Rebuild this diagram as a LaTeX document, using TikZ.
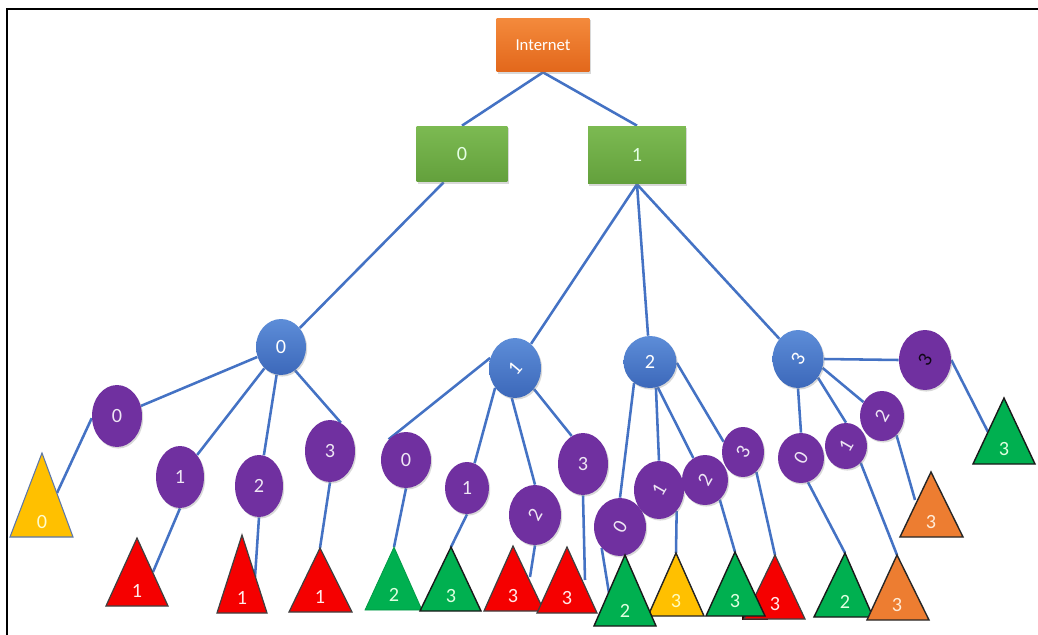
\documentclass[tikz,border=0pt]{standalone}
\usepackage{fontspec}
\setmainfont{Carlito}
\usepackage{graphicx}
\usetikzlibrary{shapes.geometric,backgrounds,shadows}
\definecolor{lineblue}{HTML}{4472C4}
\definecolor{inettop}{HTML}{F48A3C}
\definecolor{inetbot}{HTML}{E2671B}
\definecolor{gboxtop}{HTML}{7CBA52}
\definecolor{gboxbot}{HTML}{63A03C}
\definecolor{bluetop}{HTML}{5D8DD8}
\definecolor{bluebot}{HTML}{3C68BA}
\definecolor{nodepurple}{HTML}{7030A0}
\definecolor{trired}{HTML}{F50000}
\definecolor{trigreen}{HTML}{00B050}
\definecolor{triyellow}{HTML}{FFC000}
\definecolor{triorange}{HTML}{ED7D31}
\tikzset{
  digits/.style={font=\fontsize{11.5}{13}\selectfont},
  shad/.style={drop shadow={opacity=0.3, shadow xshift=0.7pt, shadow yshift=-0.9pt}},
  inetbox/.style={rectangle, draw=none, shad, top color=inettop, bottom color=inetbot,
    text=white, font=\fontsize{9.5}{11}\selectfont, minimum width=1.86cm, minimum height=1.08cm},
  gbox/.style={rectangle, draw=none, shad, top color=gboxtop, bottom color=gboxbot,
    text=green!10!white, digits},
  bnode/.style={ellipse, draw=none, inner sep=0pt, shad, top color=bluetop, bottom color=bluebot,
    text=white, digits},
  pnode/.style={ellipse, draw=none, inner sep=0pt, shad, fill=nodepurple,
    text=nodepurple!12!white, digits},
  conn/.style={draw=lineblue, line width=1.45pt},
  trilabel/.style={inner sep=0pt, digits},
  tred/.style={fill=trired, draw=black!75, line width=0.7pt, text=red!8!white},
  tgreen/.style={fill=trigreen, draw=black!90, line width=0.8pt, text=green!12!white},
  tgreenb/.style={fill=trigreen, draw=trigreen!85!black, line width=0.4pt, text=green!12!white},
  tyellow/.style={fill=triyellow, draw=black!85, line width=0.8pt, text=yellow!25!white},
  tyellowb/.style={fill=triyellow, draw=lineblue!60!gray, line width=0.6pt, text=yellow!20!white},
  torange/.style={fill=triorange, draw=black!85, line width=0.8pt, text=orange!15!white},
}
\newcommand\mytri[8]{%
  \draw[#2] (#3,#4) -- (#5,#7) -- (#6,#7) -- cycle;
  \coordinate (#1top) at (#3,#4);
  \node[trilabel,#2,fill=none,draw=none] (#1) at (#3,#7-15) {#8};
}
\newcommand\rlab[1]{\rotatebox{60}{#1}}
\begin{document}
\begin{tikzpicture}[x=0.02cm, y=-0.02cm]
\useasboundingbox (0,0) rectangle (1038,635);

% frame
\draw[black, line width=0.9pt] (7,635) -- (7,9) -- (1038,9);

% top boxes
\node[inetbox] (inet) at (543,45) {Internet};
\node[gbox, minimum width=1.82cm, minimum height=1.12cm] (g0) at (462,154) {0};
\node[gbox, minimum width=1.96cm, minimum height=1.16cm] (g1) at (637,155) {1};

% blue nodes
\node[bnode, minimum width=1.00cm, minimum height=1.12cm] (b0) at (281,347) {0};
\node[bnode, minimum width=1.04cm, minimum height=1.20cm] (b1) at (515,368) {\rotatebox{50}{1}};
\node[bnode, minimum width=1.06cm, minimum height=1.04cm] (b2) at (650,362) {2};
\node[bnode, minimum width=1.02cm, minimum height=1.16cm] (b3) at (798,359) {\rlab{3}};

% purple nodes
\node[pnode, minimum width=1.00cm, minimum height=1.24cm] (p00) at (117,416) {0};
\node[pnode, minimum width=0.96cm, minimum height=1.24cm] (p01) at (180,477) {1};
\node[pnode, minimum width=0.96cm, minimum height=1.24cm] (p02) at (259,486) {2};
\node[pnode, minimum width=1.00cm, minimum height=1.24cm] (p03) at (330,451) {3};

\node[pnode, minimum width=1.00cm, minimum height=1.12cm] (p10) at (406,460) {0};
\node[pnode, minimum width=0.88cm, minimum height=1.04cm] (p11) at (467,488) {1};
\node[pnode, minimum width=1.04cm, minimum height=1.20cm] (p12) at (535,515) {\rlab{2}};
\node[pnode, minimum width=1.00cm, minimum height=1.24cm] (p13) at (583,464) {3};

\node[pnode, minimum width=1.04cm, minimum height=1.16cm] (p20) at (620,527) {\rlab{0}};
\node[pnode, minimum width=1.00cm, minimum height=1.16cm] (p21) at (659,490) {\rlab{1}};
\node[pnode, minimum width=0.92cm, minimum height=1.00cm] (p22) at (705,480) {\rlab{2}};
\node[pnode, minimum width=0.84cm, minimum height=1.00cm] (p23) at (743,452) {\rlab{3}};

\node[pnode, minimum width=0.92cm, minimum height=1.00cm] (p30) at (801,458) {\rlab{0}};
\node[pnode, minimum width=0.84cm, minimum height=0.92cm] (p31) at (846,446) {\rlab{1}};
\node[pnode, minimum width=0.88cm, minimum height=1.00cm] (p32) at (882,416) {\rlab{2}};
\node[pnode, minimum width=1.04cm, minimum height=1.20cm, text=black!85!nodepurple] (p33) at (925,360) {\rlab{3}};

% dark mark under the red leaf near the right
\fill[black!80!red] (742,614) rectangle (768,620);

% triangles (leaves)
\mytri{ty0}{tyellowb}{42}{453}{10}{73}{537}{0}
\mytri{tra}{tred}{137}{538}{106}{168}{606}{1}
\mytri{trb}{tred}{242}{535}{217}{267}{613}{1}
\mytri{trc}{tred}{320}{548}{289}{352}{612}{1}
\mytri{tgd}{tgreenb}{394}{547}{365}{422}{610}{2}
\mytri{tge}{tgreen}{451}{547}{420}{481}{611}{3}
\mytri{trf}{tred}{513}{546}{484}{544}{611}{3}
\mytri{trg}{tred}{567}{547}{537}{597}{613}{3}
\mytri{tyi}{tyellow}{676}{553}{648}{704}{616}{3}
\mytri{tgh}{tgreen}{625}{555}{594}{656}{626}{2}
\mytri{trk}{tred}{775}{555}{744}{805}{619}{3}
\mytri{tgj}{tgreen}{735}{552}{706}{765}{616}{3}
\mytri{tgl}{tgreen}{845}{553}{814}{873}{617}{2}
\mytri{too}{torange}{897}{555}{867}{929}{620}{3}
\mytri{ton}{torange}{931}{472}{900}{963}{537}{3}
\mytri{tgm}{tgreen}{1004}{398}{973}{1035}{464}{3}

% free ends of some connectors
\coordinate (y0e) at (57,493);
\coordinate (rae) at (153,572);
\coordinate (rbe) at (255,577);
\coordinate (rfe) at (530,577);
\coordinate (rge) at (585,580);
\coordinate (ghe) at (609,593);
\coordinate (one) at (915,500);
\coordinate (gme) at (988,432);

\begin{pgfonlayer}{background}
\fill[white] (0,0) rectangle (1038,635);
\draw[conn] (inet.south) -- (g0.north);
\draw[conn] (inet.south) -- (g1.north);
\draw[conn] (g0.237) -- (b0);
\draw[conn] (g1.south) -- (b1);
\draw[conn] (g1.south) -- (b2);
\draw[conn] (g1.south) -- (b3);
% blue 0
\draw[conn] (b0) -- (p00);
\draw[conn] (b0) -- (p01);
\draw[conn] (b0) -- (p02);
\draw[conn] (b0.-59) -- (p03.69);
% blue 1
\draw[conn] (b1.158) -- (p10.130);
\draw[conn] (b1.225) -- (p11.73);
\draw[conn] (b1.264) -- (p12.90);
\draw[conn] (b1.-48) -- (p13.112);
% blue 2
\draw[conn] (b2.233) -- (p20.90);
\draw[conn] (b2.-77) -- (p21.90);
\draw[conn] (b2.-73) -- (p22.118);
\draw[conn] (b2.-2) -- (p23.152);
% blue 3
\draw[conn] (b3.south) -- (p30.north);
\draw[conn] (b3.-43) -- (p31.north);
\draw[conn] (b3.-20) -- (p32.143);
\draw[conn] (b3.east) -- (p33.west);
% purple to leaves
\draw[conn] (p00.185) -- (y0e);
\draw[conn] (p01.south) -- (rae);
\draw[conn] (p02.south) -- (rbe);
\draw[conn] (p03.south) -- (trctop);
\draw[conn] (p10.south) -- (tgdtop);
\draw[conn] (p11.south) -- (tgetop);
\draw[conn] (p12.south) -- (rfe);
\draw[conn] (p13.south) -- (rge);
\draw[conn] (p20.229) -- (ghe);
\draw[conn] (p21.-50) -- (tyitop);
\draw[conn] (p22.-53) -- (tgjtop);
\draw[conn] (p23.-56) -- (trktop);
\draw[conn] (p30.-74) -- (tgltop);
\draw[conn] (p31.-49) -- (tootop);
\draw[conn] (p32.-53) -- (one);
\draw[conn] (p33.east) -- (gme);
\end{pgfonlayer}
\end{tikzpicture}
\end{document}
